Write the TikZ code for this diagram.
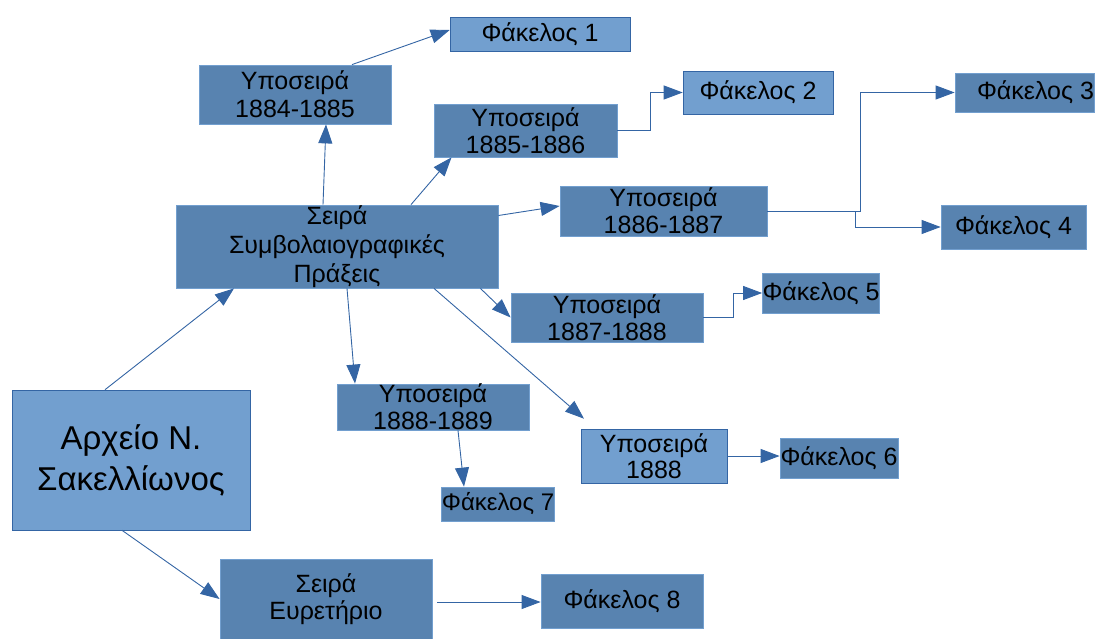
\documentclass[tikz,border=0pt]{standalone}
\usepackage{fontspec}
\setmainfont{Liberation Sans}
\usetikzlibrary{arrows.meta}
\definecolor{boxdarkfill}{HTML}{5883B0}
\definecolor{boxlightfill}{HTML}{729FCF}
\definecolor{linkblue}{HTML}{3465A4}
\tikzset{
  darkbox/.style={draw=boxlightfill,line width=0.8pt,fill=boxdarkfill,inner sep=0pt,align=center,
    font=\fontsize{25}{27}\selectfont},
  lightbox/.style={draw=linkblue,line width=0.6pt,fill=boxlightfill,inner sep=0pt,align=center,
    font=\fontsize{25}{27}\selectfont},
  link/.style={draw=linkblue,line width=0.9pt,-{Triangle[length=19pt,width=14pt]}}
}
\begin{document}
\begin{tikzpicture}[x=1pt,y=1pt,yscale=-1,xscale=1]
\useasboundingbox (0,0) rectangle (1107,639);

%Archive
\node [lightbox,minimum width=238pt,minimum height=140pt,font=\fontsize{33}{41}\selectfont] (arch) at (131,460) {Αρχείο Ν.\\Σακελλίωνος};
%Series
\node [darkbox,minimum width=322pt,minimum height=83pt,font=\fontsize{25}{29}\selectfont] (seira) at (337,246.5) {Σειρά\\Συμβολαιογραφικές\\Πράξεις};
\node [darkbox,minimum width=212pt,minimum height=80pt] (eur) at (326,599) {Σειρά\\Ευρετήριο};
%Subseries
\node [darkbox,minimum width=192pt,minimum height=59pt,font=\fontsize{25}{28}\selectfont] (s84) at (295,94.5) {Υποσειρά\\1884-1885};
\node [darkbox,minimum width=183pt,minimum height=53pt] (s85) at (525.5,130.5) {Υποσειρά\\1885-1886};
\node [darkbox,minimum width=207pt,minimum height=50pt] (s86) at (663.5,211) {Υποσειρά\\1886-1887};
\node [darkbox,minimum width=192pt,minimum height=49pt] (s87) at (607,317.5) {Υποσειρά\\1887-1888};
\node [darkbox,minimum width=192pt,minimum height=44pt] (s89) at (433,407) {Υποσειρά\\1888-1889};
\node [lightbox,minimum width=146pt,minimum height=54pt,font=\fontsize{25}{26}\selectfont] (s88) at (654,456) {Υποσειρά\\1888};
%Folders
\node [lightbox,minimum width=180pt,minimum height=34pt] (f1) at (540,34) {Φάκελος 1};
\node [lightbox,minimum width=150pt,minimum height=43pt] (f2) at (758,92.5) {Φάκελος 2};
\node [darkbox,minimum width=139pt,minimum height=39pt] (f3) at (1024.5,92.5) {\hspace{22pt}Φάκελος 3};
\node [darkbox,minimum width=145pt,minimum height=44pt] (f4) at (1013.5,227) {Φάκελος 4};
\node [darkbox,minimum width=116pt,minimum height=40pt] (f5) at (821,293) {Φάκελος 5};
\node [darkbox,minimum width=118pt,minimum height=40pt] (f6) at (839,458) {Φάκελος 6};
\node [darkbox,minimum width=108pt,minimum height=34pt,font=\fontsize{24}{27}\selectfont] (f7) at (498,504) {Φάκελος 7};
\node [darkbox,minimum width=162pt,minimum height=54pt] (f8) at (622,601) {Φάκελος 8};

%Links
\draw [link] ([xshift=-26pt]arch.north) -- ([xshift=-103pt]seira.south);
\draw [link] ([xshift=-9pt]arch.south) -- (eur.west);
\draw [link] ([xshift=-14pt]seira.north) -- ([xshift=31pt]s84.south);
\draw [link] ([xshift=57pt]s84.north) -- ([yshift=-4pt]f1.west);
\draw [link] ([xshift=74pt]seira.north) -- ([xshift=-74pt]s85.south);
\draw [link] (s85.east) -- ++(33,0) |- (f2.west);
\draw [link] ([yshift=-31pt]seira.east) -- ([yshift=-5pt]s86.west);
\draw [link] (s86.east) -- ++(93,0) |- (f3.west);
\draw [link] (s86.east) -- ++(88,0) |- (f4.west);
\draw [link] ([xshift=-18pt]seira.south east) -- (s87.west);
\draw [link] (s87.east) -- ++(30,0) |- (f5.west);
\draw [link] ([xshift=10pt]seira.south) -- ([xshift=-78pt]s89.north);
\draw [link] ([xshift=97pt]seira.south) -- ([xshift=-70pt,yshift=-10pt]s88.north);
\draw [link] ([xshift=25pt]s89.south) -- ([xshift=-34pt]f7.north);
\draw [link] (s88.east) -- (s88.east -| f6.west);
\draw [link] ([xshift=5pt,yshift=3pt]eur.east) -- ([yshift=3pt]eur.east -| f8.west);

\end{tikzpicture}
\end{document}
